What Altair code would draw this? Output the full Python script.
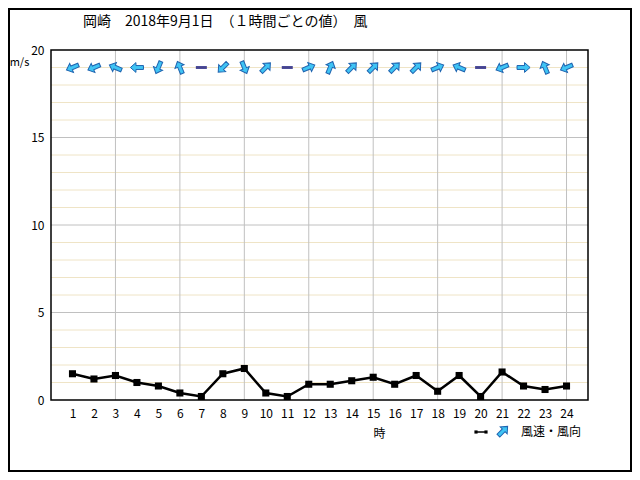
import altair as alt
import pandas as pd

hours = list(range(1, 25))
speed = [1.5, 1.2, 1.4, 1.0, 0.8, 0.4, 0.2, 1.5, 1.8, 0.4, 0.2, 0.9,
         0.9, 1.1, 1.3, 0.9, 1.4, 0.5, 1.4, 0.2, 1.6, 0.8, 0.6, 0.8]
# direction the arrow points (compass degrees, 0 = up); None = calm
arrow_dir = [247.5, 247.5, 292.5, 270, 202.5, 337.5, None, 225, 157.5, 45, None, 67.5,
             22.5, 45, 45, 45, 45, 67.5, 292.5, None, 247.5, 90, 337.5, 247.5]
arrow_level = 19
y_ticks = [0, 5, 10, 15, 20]
minor_y = [v for v in range(1, 20) if v % 5 != 0]
major_y = [5, 10, 15]
major_x = [3, 6, 9, 12, 15, 18, 21, 24]
title_text = ["岡崎　2018年9月1日　（１時間ごとの値）　風"]
legend_text = ["風速・風向"]

W, H = 537, 350
PL, PT, PR, PB = 43, 42, 44, 72
FONT = "Noto Sans CJK JP"
ARROW = "M0,-1L0.75,-0.15L0.3,-0.15L0.3,1L-0.3,1L-0.3,-0.15L-0.75,-0.15Z"

df = pd.DataFrame({"hour": hours, "speed": speed})
arr = pd.DataFrame({"hour": hours, "dir": arrow_dir, "lvl": arrow_level})
wind = arr.dropna()
calm = arr[arr["dir"].isna()]
one = pd.DataFrame({"k": [0]})

xs = alt.Scale(domain=[0, 25], nice=False, zero=False)
ys = alt.Scale(domain=[0, 20], nice=False)
XAX = alt.Axis(values=hours, grid=False, ticks=False, domain=False, labelFont=FONT,
               labelFontSize=12, labelColor="#000", labelPadding=8, title="時",
               titleFont=FONT, titleFontSize=12, titleFontWeight="normal",
               titleColor="#000", titleX=328, titleY=28)
YAX = alt.Axis(values=y_ticks, grid=False, ticks=False, domain=False, labelFont=FONT,
               labelFontSize=12, labelColor="#000", labelPadding=7, title="m/s",
               titleAngle=0, titleFont=FONT, titleFontSize=11, titleFontWeight="normal",
               titleColor="#000", titleX=-32, titleY=12, titleAlign="center",
               titleBaseline="middle")


def X(f):
    return alt.X(f, scale=xs, axis=XAX)


def Y(f):
    return alt.Y(f, scale=ys, axis=YAX)


minor = alt.Chart(pd.DataFrame({"v": minor_y})).mark_rule(color="#efe4c6", strokeWidth=1).encode(
    y=Y("v:Q"))
majorh = alt.Chart(pd.DataFrame({"v": major_y})).mark_rule(color="#c0c0c0", strokeWidth=1).encode(
    y=Y("v:Q"))
majorv = alt.Chart(pd.DataFrame({"v": major_x})).mark_rule(color="#c0c0c0", strokeWidth=1).encode(
    x=X("v:Q"))

line = alt.Chart(df).mark_line(color="#000", strokeWidth=2.5).encode(
    x=X("hour:Q"), y=Y("speed:Q"))
pts = alt.Chart(df).mark_point(shape="square", filled=True, color="#000", size=50, opacity=1).encode(
    x=X("hour:Q"), y=Y("speed:Q"))

arrows = alt.Chart(wind).mark_point(shape=ARROW, filled=True, fill="#3fc4f4", stroke="#1f64b0",
                                     strokeWidth=1, size=170, opacity=1).encode(
    x=X("hour:Q"), y=Y("lvl:Q"), angle=alt.Angle("dir:Q", scale=None))
calms = alt.Chart(calm).mark_tick(color="#000070", thickness=3, size=11, orient="horizontal").encode(
    x=X("hour:Q"), y=Y("lvl:Q"))

title = alt.Chart(pd.DataFrame({"t": title_text})).mark_text(
    font=FONT, fontSize=14, fontWeight="normal", align="left", baseline="middle",
    fill="#000").encode(
    text="t:N", x=alt.value(32), y=alt.value(-28))

frame = alt.Chart(one).mark_rect(fill=None, stroke="#000", strokeWidth=1.5).encode(
    x=alt.value(0), x2=alt.value(W), y=alt.value(0), y2=alt.value(H))
outer = alt.Chart(one).mark_rect(fill=None, stroke="#000", strokeWidth=2).encode(
    x=alt.value(-PL + 1), x2=alt.value(W + PR - 1), y=alt.value(-PT + 1), y2=alt.value(H + PB - 1))

leg_line = alt.Chart(one).mark_rule(color="#000", strokeWidth=1.5).encode(
    x=alt.value(425), x2=alt.value(435), y=alt.value(382))
leg_dots = alt.Chart(pd.DataFrame({"px": [425, 435]})).mark_point(
    shape="square", filled=True, color="#000", size=10, opacity=1).encode(
    x=alt.X("px:Q", scale=None, axis=None), y=alt.value(382))
leg_arrow = alt.Chart(one).mark_point(shape=ARROW, filled=True, fill="#3fc4f4", stroke="#1f64b0",
                                       strokeWidth=1, size=170, opacity=1, angle=45).encode(
    x=alt.value(452), y=alt.value(381))
leg_text = alt.Chart(pd.DataFrame({"t": legend_text})).mark_text(
    font=FONT, fontSize=12, fontWeight="normal", align="left", baseline="middle",
    fill="#000").encode(
    text="t:N", x=alt.value(470), y=alt.value(382))

chart = alt.layer(
    minor, majorh, majorv, line, pts, arrows, calms, frame, title, outer,
    leg_line, leg_dots, leg_arrow, leg_text
).properties(
    width=W, height=H,
    autosize=alt.AutoSizeParams(type="none"),
    padding={"left": PL, "top": PT, "right": PR, "bottom": PB},
    background="#ffffff",
).configure_view(stroke=None)

chart.save("out.html", embed_options={"renderer": "svg", "actions": False})
